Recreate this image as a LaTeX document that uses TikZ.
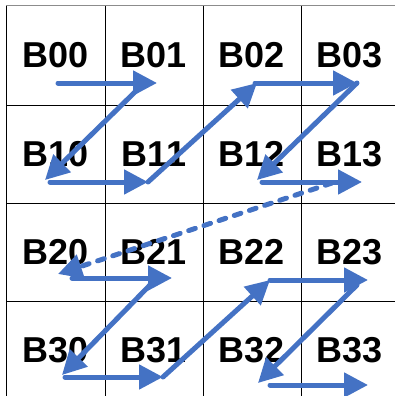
\documentclass[tikz,border=0pt]{standalone}
\usepackage{fontspec}
\setmainfont{Liberation Sans}
\usetikzlibrary{arrows.meta}
\definecolor{arrowblue}{HTML}{4472C4}
\begin{document}
\begin{tikzpicture}[x=1pt,y=-1pt,
  gridline/.style={line width=0.9pt,black},
  topline/.style={line width=1pt,black!45},
  celltext/.style={font=\bfseries\fontsize{36}{36}\selectfont,anchor=base,inner sep=0pt},
  blue arrow/.style={line width=5pt,arrowblue,line cap=round,-{Triangle[length=24pt,width=24pt]}},
  dash arrow/.style={blue arrow,dash pattern=on 7pt off 9pt}]
\useasboundingbox (0,0) rectangle (395,396);
% grid
\draw[topline] (6,6) -- (395,6);
\foreach \y in {105,203,301} \draw[gridline] (6,\y) -- (395,\y);
\foreach \x in {6,105,203,301} \draw[gridline] (\x,6) -- (\x,396);
% labels
\foreach \r/\cy in {0/55.5,1/154,2/252,3/350}{
  \foreach \c/\cx in {0/55.5,1/154,2/252,3/350}{
    \node[celltext] (B\r\c) at (\cx,\cy+12) {B\r\c};
  }
}
% coordinates
\coordinate (p1) at (58,83);   \coordinate (q1) at (157,83);
\coordinate (p2) at (137,90);  \coordinate (q2) at (45,180);
\coordinate (p3) at (50,182);  \coordinate (q3) at (148,182);
\coordinate (q4) at (257,83);
\coordinate (p5) at (255,83);  \coordinate (q5) at (357,83);
\coordinate (q6) at (257,180);
\coordinate (p7) at (262,182); \coordinate (q7) at (362,182);
\coordinate (pd) at (332,183); \coordinate (qd) at (58,274);
\coordinate (p8) at (72,278);  \coordinate (q8) at (172,278);
\coordinate (p9) at (150,285); \coordinate (q9) at (62,375);
\coordinate (p10) at (65,377); \coordinate (q10) at (163,377);
\coordinate (q11) at (270,280);
\coordinate (q12) at (368,280);
\coordinate (p13) at (357,285); \coordinate (q13) at (258,383);
\coordinate (p14) at (270,385); \coordinate (q14) at (368,385);
% arrows
\draw[blue arrow] (p1) -- (q1);
\draw[blue arrow] (p2) -- (q2);
\draw[blue arrow] (p3) -- (q3);
\draw[blue arrow] (q3) -- (q4);
\draw[blue arrow] (p5) -- (q5);
\draw[blue arrow] (q5) -- (q6);
\draw[blue arrow] (p7) -- (q7);
\draw[dash arrow] (pd) -- (qd);
\draw[blue arrow] (p8) -- (q8);
\draw[blue arrow] (p9) -- (q9);
\draw[blue arrow] (p10) -- (q10);
\draw[blue arrow] (q10) -- (q11);
\draw[blue arrow] (q11) -- (q12);
\draw[blue arrow] (p13) -- (q13);
\draw[blue arrow] (p14) -- (q14);
\end{tikzpicture}
\end{document}
